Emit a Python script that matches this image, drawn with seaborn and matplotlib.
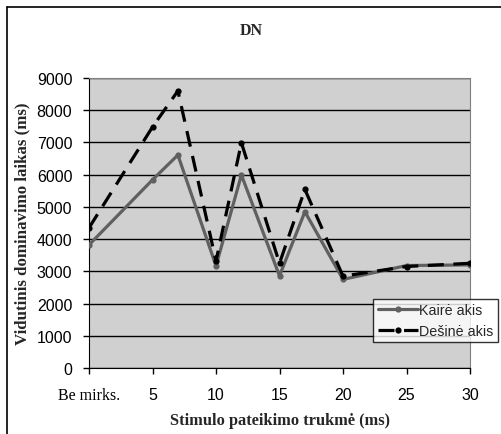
import numpy as np
import pandas as pd
import matplotlib
matplotlib.use('Agg')
import matplotlib.pyplot as plt
import seaborn as sns
from matplotlib.lines import Line2D

# stimulus duration (ms); 0 stands for "Be mirks."
durations = [0, 5, 7, 10, 12, 15, 17, 20, 25, 30]
left_eye = [3820, 5840, 6610, 3170, 5990, 2860, 4850, 2750, 3180, 3200]
right_eye = [4350, 7480, 8600, 3320, 6990, 3250, 5540, 2850, 3150, 3250]
tick_pos = [0, 5, 10, 15, 20, 25, 30]
tick_labels = ['Be mirks.', '5', '10', '15', '20', '25', '30']
series_names = ['Kairė akis', 'Dešinė akis']

df = pd.DataFrame({'x': durations * 2,
                   'y': left_eye + right_eye,
                   'series': [series_names[0]] * len(durations) + [series_names[1]] * len(durations)})

sns.set_style('white')
plt.rcParams['font.family'] = ['Liberation Sans', 'DejaVu Sans']
serif = ['Liberation Serif', 'DejaVu Serif']

W, H = 502, 435
fig = plt.figure(figsize=(W / 100, H / 100), dpi=100)
# plot area in pixels: x 89..470, y 79..369
ax = fig.add_axes([89 / W, 1 - 369 / H, (470 - 89) / W, (369 - 79) / H])

sns.lineplot(data=df[df.series == series_names[0]], x='x', y='y', ax=ax,
             color='#606060', lw=2.3, marker='o', markersize=4.5,
             markeredgewidth=0, label=series_names[0], zorder=3)
sns.lineplot(data=df[df.series == series_names[1]], x='x', y='y', ax=ax,
             color='black', lw=2.3, marker='o', markersize=4.5,
             markeredgewidth=0, dashes=(5, 3), label=series_names[1], zorder=4)

ax.set_facecolor('#d0d0d0')
ax.set_xlim(0, 30)
ax.set_ylim(0, 9000)
ax.set_yticks(np.arange(0, 9001, 1000))
ax.yaxis.grid(True, color='black', lw=1)
ax.set_axisbelow(True)
ax.set_xticks(tick_pos)
ax.set_xticklabels(tick_labels)
ax.get_xticklabels()[0].set_family(serif)
ax.get_xticklabels()[0].set_fontsize(12)
ax.tick_params(axis='both', labelsize=11.5, length=4, width=1, direction='out',
               bottom=True, left=True, colors='black')
ax.tick_params(axis='x', pad=10)
ax.tick_params(axis='y', pad=8)
for s in ['top', 'right']:
    ax.spines[s].set_color('#808080')
for s in ['left', 'bottom']:
    ax.spines[s].set_color('black')

ax.set_xlabel('Stimulo pateikimo trukmė (ms)', family=serif, weight='bold', fontsize=11.8)
ax.xaxis.set_label_coords(0.5, -(421 - 369) / 290, transform=ax.transAxes)
ax.xaxis.label.set_va('center')
ax.set_ylabel('Vidutinis dominavimo laikas (ms)', family=serif, weight='bold', fontsize=12.2)
ax.yaxis.set_label_coords(-(89 - 22) / 381, 0.5, transform=ax.transAxes)
ax.yaxis.label.set_va('center')
fig.text(0.5, 1 - 31 / H, 'DN', ha='center', va='center', family=serif,
         weight='bold', fontsize=11.5)

leg = ax.legend(loc='lower right', bbox_to_anchor=(1.073, 0.09), frameon=True,
                fancybox=False, edgecolor='black', fontsize=10.3,
                borderpad=0.3, labelspacing=0.45, handlelength=2.8,
                handletextpad=0.1, borderaxespad=0)
leg.get_frame().set_linewidth(1)
leg.get_frame().set_facecolor('white')

# page frame: only top and left edges show
fig.add_artist(Line2D([6.5 / W, 6.5 / W], [0, 1 - 8 / H], transform=fig.transFigure,
                      color='black', lw=1.2))
fig.add_artist(Line2D([6.5 / W, 1], [1 - 8 / H, 1 - 8 / H], transform=fig.transFigure,
                      color='black', lw=1.2))

fig.savefig('out.png', dpi=100)
